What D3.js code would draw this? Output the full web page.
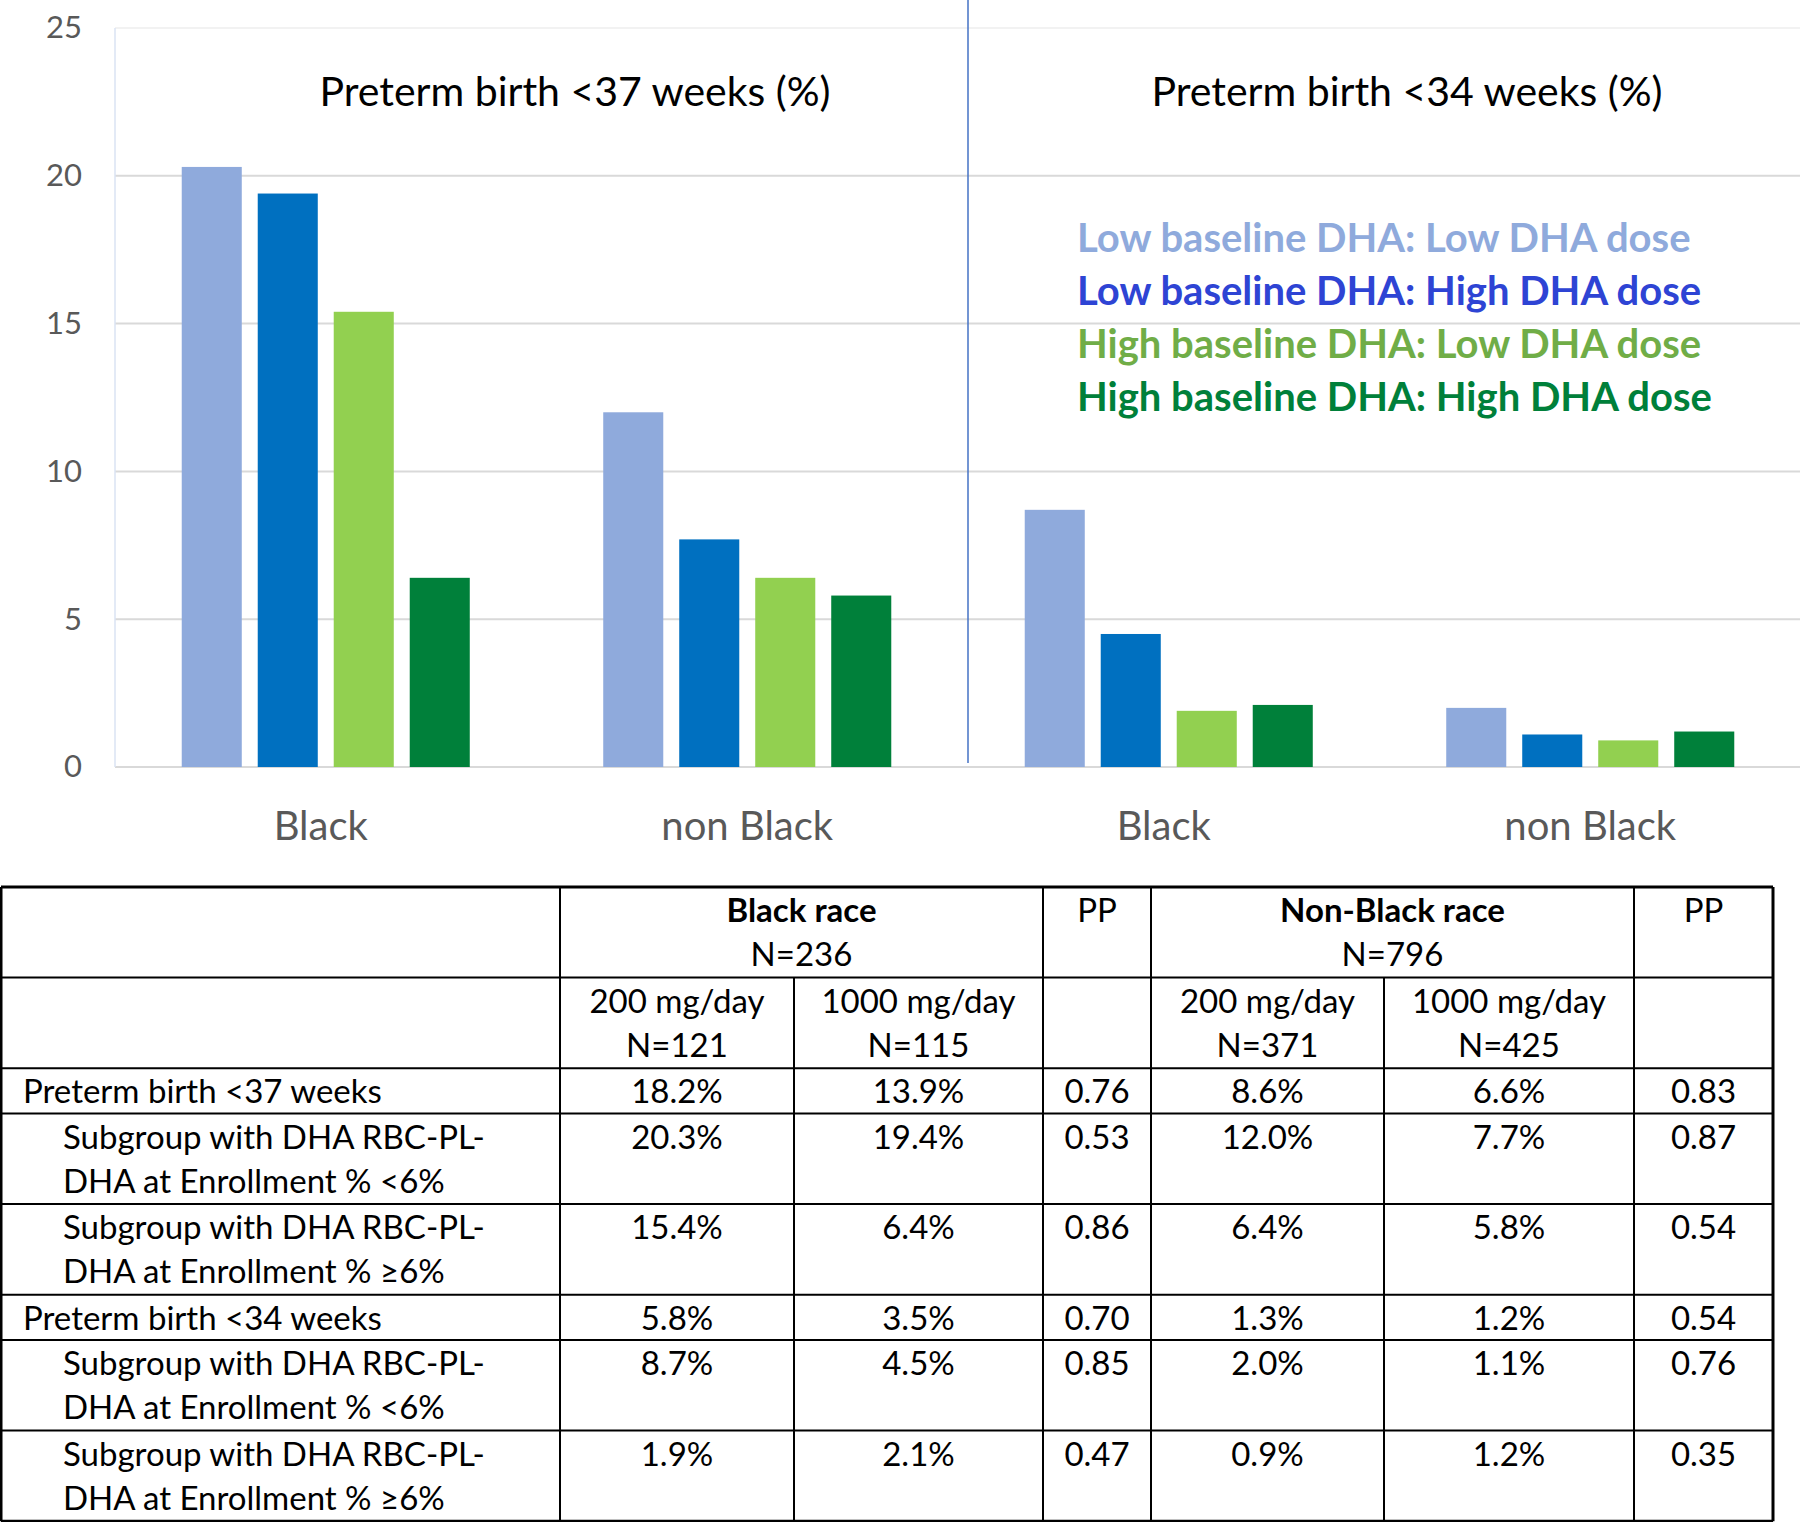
<!DOCTYPE html>
<html>
<head>
<meta charset="utf-8">
<script src="https://cdn.jsdelivr.net/npm/d3@7"></script>
<style>
  body { margin: 0; background: #fff; }
  text { font-family: Lato, "Open Sans", sans-serif; }
</style>
</head>
<body>
<div id="chart"></div>
<script>
// chart data
const groups = ["Black", "non Black", "Black", "non Black"];
const panelTitles = ["Preterm birth <37 weeks (%)", "Preterm birth <34 weeks (%)"];
const seriesNames = [
    "Low baseline DHA: Low DHA dose",
    "Low baseline DHA: High DHA dose",
    "High baseline DHA: Low DHA dose",
    "High baseline DHA: High DHA dose"
];
const lowBaseLowDose = [20.3, 12.0, 8.7, 2.0];
const lowBaseHighDose = [19.4, 7.7, 4.5, 1.1];
const highBaseLowDose = [15.4, 6.4, 1.9, 0.9];
const highBaseHighDose = [6.4, 5.8, 2.1, 1.2];
const yTicks = [0, 5, 10, 15, 20, 25];

// table data
const rowLabels = [
    ["Preterm birth <37 weeks"],
    ["Subgroup with DHA RBC-PL-", "DHA at Enrollment % <6%"],
    ["Subgroup with DHA RBC-PL-", "DHA at Enrollment % \u22656%"],
    ["Preterm birth <34 weeks"],
    ["Subgroup with DHA RBC-PL-", "DHA at Enrollment % <6%"],
    ["Subgroup with DHA RBC-PL-", "DHA at Enrollment % \u22656%"]
];
const blackLow = ["18.2%", "20.3%", "15.4%", "5.8%", "8.7%", "1.9%"];
const blackHigh = ["13.9%", "19.4%", "6.4%", "3.5%", "4.5%", "2.1%"];
const blackP = ["0.76", "0.53", "0.86", "0.70", "0.85", "0.47"];
const nonBlackLow = ["8.6%", "12.0%", "6.4%", "1.3%", "2.0%", "0.9%"];
const nonBlackHigh = ["6.6%", "7.7%", "5.8%", "1.2%", "1.1%", "1.2%"];
const nonBlackP = ["0.83", "0.87", "0.54", "0.54", "0.76", "0.35"];

const barColors = ["#8faadc", "#0070c0", "#92d050", "#00803a"];
const legendColors = ["#8faadc", "#2e44d4", "#70ad47", "#00803a"];

const width = 1800, height = 1522;
const svg = d3.select("#chart").append("svg")
    .attr("width", width)
    .attr("height", height);

// ---- bar chart ----
const plot = { left: 115, right: 1801, top: 28, bottom: 767 };

const y = d3.scaleLinear().domain([0, 25]).range([plot.bottom, plot.top]);
const x0 = d3.scaleBand().domain(d3.range(groups.length)).range([plot.left, plot.right]);
const x1 = d3.scaleBand().domain(d3.range(seriesNames.length))
    .range([0, x0.bandwidth()])
    .paddingInner(0.21)
    .paddingOuter(0.878);

const series = [lowBaseLowDose, lowBaseHighDose, highBaseLowDose, highBaseHighDose];

// gridlines
svg.append("g").selectAll("line")
    .data(yTicks)
    .join("line")
    .attr("x1", plot.left).attr("x2", plot.right)
    .attr("y1", d => y(d)).attr("y2", d => y(d))
    .attr("stroke", d => d === 25 ? "#f2f2f2" : "#d9d9d9")
    .attr("stroke-width", 2);

// y axis line
svg.append("line")
    .attr("x1", plot.left).attr("x2", plot.left)
    .attr("y1", plot.top).attr("y2", plot.bottom)
    .attr("stroke", "#dae3f3")
    .attr("stroke-width", 1.5);

// y tick labels
const yAxis = d3.axisLeft(y).tickValues(yTicks).tickSize(0).tickPadding(33);
svg.append("g")
    .attr("transform", `translate(${plot.left},0)`)
    .call(yAxis)
    .call(g => g.select(".domain").remove())
    .selectAll("text")
    .attr("fill", "#595959")
    .style("font-size", "31px")
    .style("font-family", "Lato, sans-serif");

// bars
const barGroups = svg.append("g").selectAll("g")
    .data(groups)
    .join("g")
    .attr("transform", (d, i) => `translate(${x0(i)},0)`);

barGroups.selectAll("rect")
    .data((d, i) => series.map((s, k) => ({ k: k, v: s[i] })))
    .join("rect")
    .attr("x", d => x1(d.k))
    .attr("width", x1.bandwidth())
    .attr("y", d => y(d.v))
    .attr("height", d => y(0) - y(d.v))
    .attr("fill", d => barColors[d.k]);

// category labels ("Black" sits a little left of its band centre)
svg.append("g").selectAll("text")
    .data(groups)
    .join("text")
    .attr("x", (d, i) => x0(i) + x0.bandwidth() / 2 - (d === "Black" ? 5 : 0))
    .attr("y", 840)
    .attr("text-anchor", "middle")
    .attr("fill", "#595959")
    .style("font-size", "40px")
    .text(d => d);

// divider between the two panels
svg.append("line")
    .attr("x1", 968).attr("x2", 968)
    .attr("y1", 0).attr("y2", 763)
    .attr("stroke", "#4472c4")
    .attr("stroke-width", 1.5);

// panel titles
const titleX = [575, 1407];
svg.append("g").selectAll("text")
    .data(panelTitles)
    .join("text")
    .attr("x", (d, i) => titleX[i])
    .attr("y", 106)
    .attr("text-anchor", "middle")
    .attr("fill", "#000")
    .style("font-size", "41px")
    .text(d => d);

// legend (coloured text only)
svg.append("g").selectAll("text")
    .data(seriesNames)
    .join("text")
    .attr("x", 1077)
    .attr("y", (d, i) => 252 + i * 53)
    .attr("fill", (d, i) => legendColors[i])
    .style("font-size", "40px")
    .style("font-weight", "bold")
    .text(d => d);

// ---- table ----
const colX = [1, 560, 794, 1043, 1151, 1384, 1634, 1773];
const lineH = 45.3;
const tableTop = 887;

// line counts per row: two header rows, then data rows
const rowLines = [2, 2].concat(rowLabels.map(r => r.length === 1 ? 1 : 2));
const rowY = [tableTop];
rowLines.forEach(n => rowY.push(rowY[rowY.length - 1] + n * lineH));

const table = svg.append("g");
const fontSize = "33px";

function cellText(lines, cx, top, anchor, bold) {
    table.append("text")
        .attr("x", cx)
        .attr("text-anchor", anchor)
        .attr("fill", "#000")
        .style("font-size", fontSize)
        .style("font-weight", bold ? "bold" : "normal")
        .selectAll("tspan")
        .data(lines)
        .join("tspan")
        .attr("x", cx)
        .attr("y", (d, i) => top + 35 + i * 44)
        .text(d => d);
}

const mid = (a, b) => (colX[a] + colX[b]) / 2;

// header row 1
cellText(["Black race"], mid(1, 3), rowY[0], "middle", true);
cellText(["N=236"], mid(1, 3), rowY[0] + 44, "middle", false);
cellText(["PP"], mid(3, 4), rowY[0], "middle", false);
cellText(["Non-Black race"], mid(4, 6), rowY[0], "middle", true);
cellText(["N=796"], mid(4, 6), rowY[0] + 44, "middle", false);
cellText(["PP"], mid(6, 7), rowY[0], "middle", false);

// header row 2
cellText(["200 mg/day", "N=121"], mid(1, 2), rowY[1], "middle", false);
cellText(["1000 mg/day", "N=115"], mid(2, 3), rowY[1], "middle", false);
cellText(["200 mg/day", "N=371"], mid(4, 5), rowY[1], "middle", false);
cellText(["1000 mg/day", "N=425"], mid(5, 6), rowY[1], "middle", false);

// data rows
const dataCols = [blackLow, blackHigh, blackP, nonBlackLow, nonBlackHigh, nonBlackP];
rowLabels.forEach((label, r) => {
    const top = rowY[r + 2];
    const indent = label.length === 1 ? 23 : 63;
    cellText(label, indent, top, "start", false);
    dataCols.forEach((col, c) => {
        cellText([col[r]], mid(c + 1, c + 2), top, "middle", false);
    });
});

// horizontal rules
table.append("g").selectAll("line")
    .data(rowY)
    .join("line")
    .attr("x1", colX[0]).attr("x2", colX[7])
    .attr("y1", d => d).attr("y2", d => d)
    .attr("stroke", "#000")
    .attr("stroke-width", (d, i) => (i === 0 || i === rowY.length - 1) ? 3 : 2);

// vertical rules (inner dose columns start below the first header row)
const vLines = colX.map((xv, i) => ({
    x: xv,
    y1: (i === 2 || i === 5) ? rowY[1] : rowY[0],
    outer: i === 0 || i === colX.length - 1
}));
table.append("g").selectAll("line")
    .data(vLines)
    .join("line")
    .attr("x1", d => d.x).attr("x2", d => d.x)
    .attr("y1", d => d.y1).attr("y2", rowY[rowY.length - 1])
    .attr("stroke", "#000")
    .attr("stroke-width", d => d.outer ? 3 : 2);
</script>
</body>
</html>
